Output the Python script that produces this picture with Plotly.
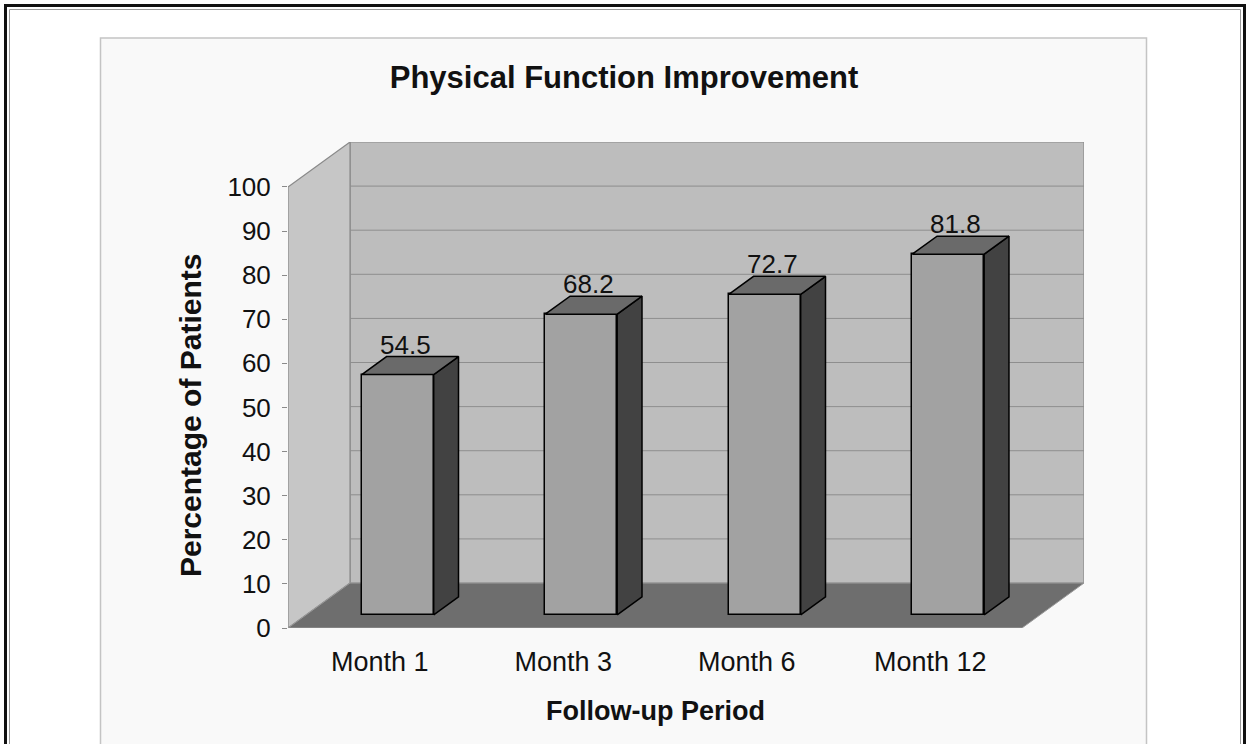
import plotly.graph_objects as go

# ---------------- data ----------------
categories = ["Month 1", "Month 3", "Month 6", "Month 12"]
values = [54.5, 68.2, 72.7, 81.8]
value_labels = ["54.5", "68.2", "72.7", "81.8"]
y_ticks = [0, 10, 20, 30, 40, 50, 60, 70, 80, 90, 100]
title_text = "Physical Function Improvement"
x_title = "Follow-up Period"
y_title = "Percentage of Patients"

# ---------------- geometry / style ----------------
W, H = 1250, 744
ML, MR, MT, MB = 288, 166, 142, 116
DX = 0.338          # depth offset of the 3-D box, category units
DY = 10.2           # depth offset of the 3-D box, value units
Y_MAX = 100
BAR_D0, BAR_D1 = 0.29, 0.69   # bar front / back depth fraction
BAR_HALF = 0.196              # half width of bar front face (category units)
FONT = "Arial, Liberation Sans, sans-serif"

n = len(categories)
x_min, x_max = -0.5, n - 0.5 + DX
y_min, y_max = 0, Y_MAX + DY
plot_w = W - ML - MR
plot_h = H - MT - MB


def proj(x, v, d):
    return x + d * DX, v + d * DY


def px2paper(px, py):
    return (px - ML) / plot_w, (H - MB - py) / plot_h


def path(points):
    return "M " + " L ".join(f"{x:.5f},{y:.5f}" for x, y in points) + " Z"


shapes = []


def paper_rect(x0, y0, x1, y1, **kw):
    a = px2paper(x0, y0)
    b = px2paper(x1, y1)
    return dict(type="rect", xref="paper", yref="paper",
                x0=a[0], y0=a[1], x1=b[0], y1=b[1], **kw)


shapes.append(paper_rect(100.5, 38, 1146.5, 800, layer="below",
                         fillcolor="#f9f9f9", line=dict(color="#c4c4c4", width=1.5)))
shapes.append(paper_rect(5.5, 5.5, 1244.5, 800, layer="above",
                         line=dict(color="#111111", width=3)))
shapes.append(paper_rect(9.5, 9.5, 1240.5, 800, layer="above",
                         line=dict(color="#9a9a9a", width=1)))

# 3-D walls and floor
x0, x1 = -0.5, n - 0.5
left_wall = [proj(x0, 0, 0), proj(x0, Y_MAX, 0), proj(x0, Y_MAX, 1), proj(x0, 0, 1)]
back_wall = [proj(x0, 0, 1), proj(x1, 0, 1), proj(x1, Y_MAX, 1), proj(x0, Y_MAX, 1)]
floor = [proj(x0, 0, 0), proj(x1, 0, 0), proj(x1, 0, 1), proj(x0, 0, 1)]

shapes.append(dict(type="path", xref="x", yref="y", layer="below", path=path(back_wall),
                   fillcolor="#bdbdbd", line=dict(color="#8a8a8a", width=1.2)))
shapes.append(dict(type="path", xref="x", yref="y", layer="below", path=path(left_wall),
                   fillcolor="#c6c6c6", line=dict(color="#8a8a8a", width=1.2)))
for v in y_ticks[1:-1]:
    a = proj(x0, v, 1)
    b = proj(x1, v, 1)
    shapes.append(dict(type="line", xref="x", yref="y", layer="below",
                       x0=a[0], y0=a[1], x1=b[0], y1=b[1],
                       line=dict(color="#8e8e8e", width=1)))
shapes.append(dict(type="path", xref="x", yref="y", layer="below", path=path(floor),
                   fillcolor="#6e6e6e", line=dict(color="#9a9a9a", width=1)))

fig = go.Figure()

# bar front faces
bar_x = [i + BAR_D0 * DX for i in range(n)]
fig.add_trace(go.Bar(
    x=bar_x, y=values, base=BAR_D0 * DY, width=2 * BAR_HALF,
    marker=dict(color="#a2a2a2", line=dict(color="#000000", width=1.5)),
    showlegend=False, hoverinfo="skip",
))

# bar side and top faces
side_x, side_y, top_x, top_y = [], [], [], []
for i, v in enumerate(values):
    fl = i - BAR_HALF
    fr = i + BAR_HALF
    pts_side = [proj(fr, 0, BAR_D0), proj(fr, 0, BAR_D1), proj(fr, v, BAR_D1),
                proj(fr, v, BAR_D0), proj(fr, 0, BAR_D0)]
    pts_top = [proj(fl, v, BAR_D0), proj(fr, v, BAR_D0), proj(fr, v, BAR_D1),
               proj(fl, v, BAR_D1), proj(fl, v, BAR_D0)]
    for p in pts_side:
        side_x.append(p[0]); side_y.append(p[1])
    side_x.append(None); side_y.append(None)
    for p in pts_top:
        top_x.append(p[0]); top_y.append(p[1])
    top_x.append(None); top_y.append(None)

fig.add_trace(go.Scatter(x=side_x, y=side_y, mode="lines", fill="toself",
                         fillcolor="#424242", line=dict(color="#000000", width=1.5),
                         showlegend=False, hoverinfo="skip"))
fig.add_trace(go.Scatter(x=top_x, y=top_y, mode="lines", fill="toself",
                         fillcolor="#6a6a6a", line=dict(color="#000000", width=1.5),
                         showlegend=False, hoverinfo="skip"))

annotations = []
for i, (v, t) in enumerate(zip(values, value_labels)):
    ax = i + BAR_D0 * DX + 0.04
    ay = v + BAR_D1 * DY
    annotations.append(dict(x=ax, y=ay, xref="x", yref="y", text=t, showarrow=False,
                            xanchor="center", yanchor="bottom", yshift=-5,
                            font=dict(family=FONT, size=26, color="#111111")))

tx, ty = px2paper(655, 711)
annotations.append(dict(x=tx, y=ty, xref="paper", yref="paper", text=f"<b>{x_title}</b>",
                        showarrow=False, xanchor="center", yanchor="middle",
                        font=dict(family=FONT, size=27, color="#111111")))
tx, ty = px2paper(190, 416)
annotations.append(dict(x=tx, y=ty, xref="paper", yref="paper", text=f"<b>{y_title}</b>",
                        showarrow=False, xanchor="center", yanchor="middle", textangle=-90,
                        font=dict(family=FONT, size=30, color="#111111")))

fig.update_layout(
    width=W, height=H, autosize=False,
    margin=dict(l=ML, r=MR, t=MT, b=MB, pad=0),
    paper_bgcolor="#ffffff", plot_bgcolor="rgba(0,0,0,0)",
    title=dict(text=f"<b>{title_text}</b>", x=624 / W, xanchor="center",
               xref="container", y=1 - 77 / H, yanchor="middle",
               font=dict(family=FONT, size=31, color="#111111")),
    shapes=shapes, annotations=annotations,
    bargap=0,
    xaxis=dict(range=[x_min, x_max], tickmode="array", tickvals=list(range(n)),
               ticktext=categories, showgrid=False, zeroline=False, showline=False,
               ticks="outside", ticklen=10, tickcolor="rgba(0,0,0,0)",
               tickfont=dict(family=FONT, size=27, color="#111111")),
    yaxis=dict(range=[y_min, y_max], tickmode="array", tickvals=y_ticks,
               showgrid=False, zeroline=False, showline=False,
               ticks="outside", ticklen=5, tickcolor="#8a8a8a", tickwidth=1,
               ticklabelstandoff=6,
               tickfont=dict(family=FONT, size=26, color="#111111")),
)

fig.write_html("out.html", config={"displayModeBar": False},
               post_script="document.body.style.margin='0';document.body.style.overflow='hidden';")
